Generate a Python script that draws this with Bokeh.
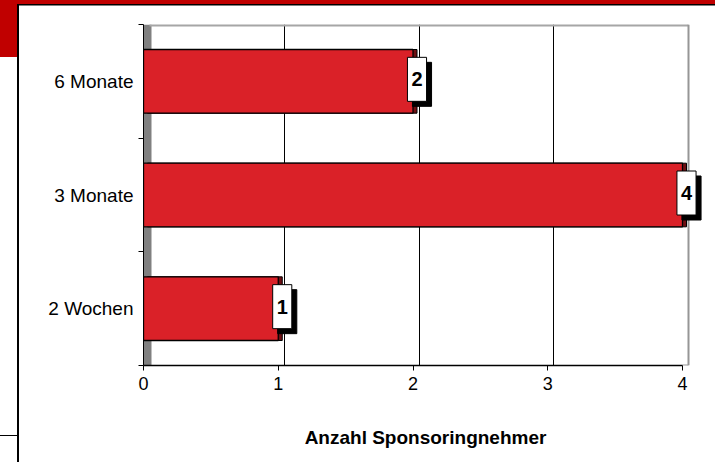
from bokeh.plotting import figure
from bokeh.models import (FixedTicker, BoxAnnotation, ColumnDataSource, Range1d,
                          InlineStyleSheet)
from bokeh.embed import file_html
from bokeh.resources import INLINE
from bokeh.core.properties import value

# ---- data ----
categories = ["2 Wochen", "3 Monate", "6 Monate"]
counts = [1, 4, 2]
x_ticks = [0, 1, 2, 3, 4]
x_title = "Anzahl Sponsoringnehmer"

positions = list(range(len(categories)))
src = ColumnDataSource(dict(y=positions, x=counts, label=[str(c) for c in counts]))

FONT_NAME = "Liberation Sans"
FONT = value(FONT_NAME)

# ---- layout constants (pixels) ----
W, H = 715, 462
LEFT, RIGHT, TOP, BOTTOM = 143, 8, 24, 97
PX = (682 - LEFT) / (x_ticks[-1] - x_ticks[0])      # pixels per unit on the front plane
FRAME_W = W - LEFT - RIGHT
X_END = FRAME_W / PX
BACK = 6 / PX       # 3-D depth of the back wall
SIDE = 4 / PX       # 3-D depth of the bar ends
WALL = 8 / PX       # width of the grey side wall

p = figure(width=W, height=H, output_backend="svg", toolbar_location=None,
           x_range=Range1d(0, X_END), y_range=Range1d(-0.5, len(categories) - 0.5),
           min_border_left=LEFT, min_border_right=RIGHT, min_border_top=TOP,
           min_border_bottom=BOTTOM)
p.extra_x_ranges = {"back": Range1d(-BACK, X_END - BACK),
                    "side": Range1d(-SIDE, X_END - SIDE)}
p.background_fill_color = "white"
p.border_fill_color = "white"
p.outline_line_color = None

# grey side wall
p.add_layout(BoxAnnotation(left=0, right=WALL, fill_color="#808080", fill_alpha=1,
                           line_color=None, level="underlay"))

# back wall gridlines
p.xgrid.ticker = FixedTicker(ticks=x_ticks[1:-1])
p.xgrid.x_range_name = "back"
p.xgrid.grid_line_color = "black"
p.ygrid.grid_line_color = None

y_lo, y_hi = -0.5, len(categories) - 0.5
# top edge and right wall of the back plane, floor edge
p.segment(x0=[x_ticks[0]], x1=[x_ticks[-1]], y0=[y_hi], y1=[y_hi], x_range_name="back",
          line_color="#a6a6a6", line_width=4)
p.segment(x0=[x_ticks[-1]], x1=[x_ticks[-1]], y0=[y_lo], y1=[y_hi], x_range_name="back",
          line_color="#969696", line_width=2)
p.segment(x0=[x_ticks[-1] - BACK], x1=[x_ticks[-1]], y0=[y_lo], y1=[y_lo],
          x_range_name="back", line_color="#969696", line_width=2)

# bars: dark 3-D end face, then the red front face
p.hbar(y="y", right="x", left=0, height=0.56, fill_color="#6e0f13",
       line_color="black", line_width=1, source=src, x_range_name="side")
p.hbar(y="y", right="x", left=0, height=0.56, fill_color="#DA2128",
       line_color="black", line_width=1.3, source=src)

# value labels: black shadow + white box
lab = dict(x="x", y="y", text="label", text_align="center", text_baseline="middle",
           text_font=FONT, text_font_style="bold", text_font_size="20px",
           text_color="black", padding=(4, 15), source=src)
p.text(x_offset=9, y_offset=3, background_fill_color="black",
       border_line_color="black", **lab)
p.text(x_offset=4, y_offset=-2, background_fill_color="white",
       border_line_color="black", border_line_width=1, **lab)

# x axis (bounded to the front plane 0..4)
xa = p.xaxis[0]
xa.ticker = FixedTicker(ticks=x_ticks)
xa.bounds = (x_ticks[0], x_ticks[-1])
xa.axis_line_color = "black"
xa.axis_line_width = 1.5
xa.major_tick_line_color = "black"
xa.major_tick_out = 5
xa.major_tick_in = 0
xa.minor_tick_line_color = None
xa.major_label_text_font = FONT_NAME
xa.major_label_text_font_size = "18px"
xa.major_label_text_color = "black"
xa.major_label_standoff = 6
xa.axis_label = x_title
xa.axis_label_text_font = FONT_NAME
xa.axis_label_text_font_style = "bold"
xa.axis_label_text_font_size = "19px"
xa.axis_label_text_color = "black"
xa.axis_label_standoff = 34

# y axis
ya = p.yaxis[0]
ya.ticker = FixedTicker(ticks=positions,
                        minor_ticks=[i - 0.5 for i in range(len(categories) + 1)])
ya.major_label_overrides = {i: c for i, c in enumerate(categories)}
ya.major_tick_line_color = None
ya.major_tick_out = 0
ya.major_tick_in = 0
ya.minor_tick_out = 5
ya.minor_tick_in = 0
ya.minor_tick_line_color = "black"
ya.axis_line_color = "black"
ya.major_label_text_font = FONT_NAME
ya.major_label_text_font_size = "19px"
ya.major_label_text_color = "black"
ya.major_label_standoff = 5

# surrounding slide panel: red band + black panel border
css = """
:host::after {
  content: "";
  position: absolute; left: 0; top: 0; width: 715px; height: 462px;
  pointer-events: none; z-index: 10;
  background:
    linear-gradient(#000, #000) 17px 4px / 2px 458px no-repeat,
    linear-gradient(#000, #000) 17px 4px / 698px 1.5px no-repeat,
    linear-gradient(#000, #000) 0 435px / 17px 1px no-repeat,
    linear-gradient(#C00000, #C00000) 0 0 / 715px 4px no-repeat,
    linear-gradient(#C00000, #C00000) 0 0 / 17px 57px no-repeat;
}
"""
p.stylesheets = [InlineStyleSheet(css=css)]

open("out.html", "w").write(file_html(p, INLINE))
